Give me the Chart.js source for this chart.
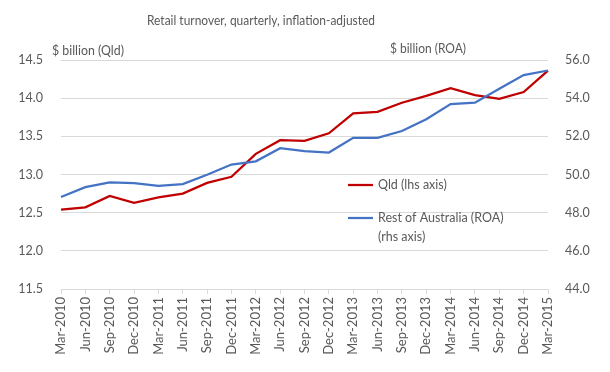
<!DOCTYPE html>
<html>
<head>
<meta charset="utf-8">
<script src="https://cdn.jsdelivr.net/npm/chart.js@4"></script>
<style>
  html, body { margin: 0; padding: 0; background: #ffffff; }
  #wrap { width: 610px; height: 372px; position: relative; }
</style>
</head>
<body>
<div id="wrap"><canvas id="c" width="610" height="372"></canvas></div>
<script>
const categories = ["Mar-2010","Jun-2010","Sep-2010","Dec-2010","Mar-2011","Jun-2011","Sep-2011","Dec-2011","Mar-2012","Jun-2012","Sep-2012","Dec-2012","Mar-2013","Jun-2013","Sep-2013","Dec-2013","Mar-2014","Jun-2014","Sep-2014","Dec-2014","Mar-2015"];
const qld = [12.54,12.57,12.72,12.63,12.70,12.75,12.89,12.97,13.27,13.45,13.44,13.54,13.80,13.82,13.94,14.03,14.13,14.04,13.99,14.08,14.36];
const roa = [48.82,49.34,49.59,49.55,49.40,49.50,49.99,50.52,50.69,51.38,51.22,51.15,51.92,51.92,52.28,52.90,53.69,53.76,54.49,55.21,55.45];
const titleText = "Retail turnover, quarterly, inflation-adjusted";
const leftAxisTitle = "$ billion (Qld)";
const rightAxisTitle = "$ billion (ROA)";
const seriesLabels = ["Qld (lhs axis)", ["Rest of Australia (ROA)", "(rhs axis)"]];

const FONT = "Lato, 'Liberation Sans', sans-serif";
const TXT = "#595959";
const GRID = "#d9d9d9";

function fitText(ctx, text, x, y, targetW) {
  const w = ctx.measureText(text).width;
  const k = Math.min(1, targetW / w);
  ctx.save();
  ctx.translate(x, y);
  ctx.scale(k, 1);
  ctx.fillText(text, 0, 0);
  ctx.restore();
}

const annotations = {
  id: "annotations",
  afterDraw(chart) {
    const ctx = chart.ctx;
    ctx.save();
    ctx.fillStyle = TXT;
    ctx.textBaseline = "middle";
    ctx.font = "13px " + FONT;
    ctx.textAlign = "center";
    fitText(ctx, titleText, 261, 21, 228);
    ctx.font = "12.5px " + FONT;
    ctx.textAlign = "left";
    fitText(ctx, leftAxisTitle, 52, 51, 72);
    fitText(ctx, rightAxisTitle, 390, 49, 76);
    // legend
    const items = [
      { color: "#C00000", lines: [seriesLabels[0]], y: 185 },
      { color: "#4472C4", lines: seriesLabels[1], y: 218 }
    ];
    ctx.font = "12.5px " + FONT;
    items.forEach(it => {
      ctx.strokeStyle = it.color;
      ctx.lineWidth = 2.25;
      ctx.beginPath();
      ctx.moveTo(348, it.y);
      ctx.lineTo(373, it.y);
      ctx.stroke();
      it.lines.forEach((t, i) => ctx.fillText(t, 378, it.y + i * 19));
    });
    ctx.restore();
  }
};

new Chart(document.getElementById("c"), {
  type: "line",
  data: {
    labels: categories,
    datasets: [
      { label: "Qld (lhs axis)", data: qld, yAxisID: "yL", borderColor: "#C00000", backgroundColor: "#C00000", borderWidth: 2.25, pointRadius: 0, tension: 0, order: 2 },
      { label: "Rest of Australia (ROA) (rhs axis)", data: roa, yAxisID: "yR", borderColor: "#4472C4", backgroundColor: "#4472C4", borderWidth: 2.25, pointRadius: 0, tension: 0, order: 1 }
    ]
  },
  options: {
    responsive: false,
    animation: false,
    devicePixelRatio: 1,
    layout: { padding: { top: 60, left: 0, right: 0, bottom: 0 } },
    plugins: { legend: { display: false }, title: { display: false }, tooltip: { enabled: false } },
    scales: {
      x: {
        offset: false,
        grid: { drawOnChartArea: false, drawTicks: true, tickLength: 5, color: GRID },
        border: { display: true, color: GRID },
        ticks: { autoSkip: false, maxRotation: 90, minRotation: 90, padding: 3, color: TXT, font: { family: FONT, size: 13 } },
        afterFit(s) { s.height = 83; }
      },
      yL: {
        position: "left",
        min: 11.5, max: 14.5,
        grid: { color: GRID, drawTicks: false },
        border: { display: false },
        ticks: { stepSize: 0.5, padding: 18, color: TXT, font: { family: FONT, size: 12.5 }, callback: v => Number(v).toFixed(1) },
        afterFit(s) { s.width = 61; }
      },
      yR: {
        position: "right",
        min: 44, max: 56,
        grid: { drawOnChartArea: false, drawTicks: false },
        border: { display: false },
        ticks: { stepSize: 2, padding: 17, color: TXT, font: { family: FONT, size: 12.5 }, callback: v => Number(v).toFixed(1) },
        afterFit(s) { s.width = 62; }
      }
    }
  },
  plugins: [annotations]
});
</script>
</body>
</html>
